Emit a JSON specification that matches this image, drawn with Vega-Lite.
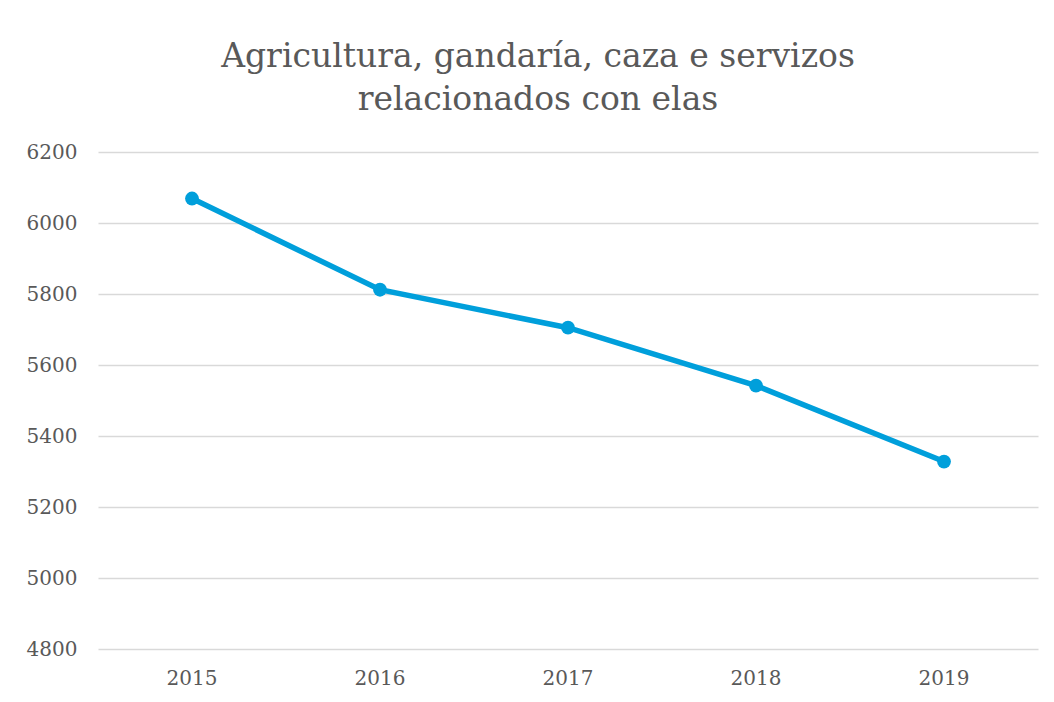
{
  "$schema": "https://vega.github.io/schema/vega-lite/v6.json",
  "autosize": {"type": "none"},
  "padding": {"left": 98, "top": 152, "right": 16, "bottom": 53},
  "width": 940,
  "height": 497,
  "background": "white",
  "title": {
    "text": ["Agricultura, gandaría, caza e servizos", "relacionados con elas"],
    "anchor": "middle",
    "dx": -30,
    "offset": 25,
    "font": "DejaVu Serif",
    "fontSize": 33,
    "fontWeight": "normal",
    "color": "#595959",
    "lineHeight": 43
  },
  "data": {
    "values": [
      {"year": "2015", "value": 6069},
      {"year": "2016", "value": 5812},
      {"year": "2017", "value": 5705},
      {"year": "2018", "value": 5542},
      {"year": "2019", "value": 5328}
    ]
  },
  "mark": {"type": "line", "color": "#009FDB", "strokeWidth": 5.5, "point": {"filled": true, "size": 190, "color": "#009FDB", "opacity": 1}},
  "encoding": {
    "x": {
      "field": "year",
      "type": "ordinal",
      "scale": {"type": "band", "paddingInner": 0, "paddingOuter": 0},
      "axis": {"title": null, "labelAngle": 0, "ticks": false, "domain": false, "grid": false, "labelPadding": 19, "labelFont": "DejaVu Serif", "labelFontSize": 20, "labelColor": "#595959"}
    },
    "y": {
      "field": "value",
      "type": "quantitative",
      "scale": {"domain": [4800, 6200], "nice": false, "zero": false},
      "axis": {"title": null, "values": [4800, 5000, 5200, 5400, 5600, 5800, 6000, 6200], "format": "d", "ticks": false, "domain": false, "grid": true, "gridColor": "#d9d9d9", "gridWidth": 1.5, "labelPadding": 21, "labelFont": "DejaVu Serif", "labelFontSize": 20, "labelColor": "#595959"}
    }
  },
  "config": {"view": {"stroke": null}}
}
